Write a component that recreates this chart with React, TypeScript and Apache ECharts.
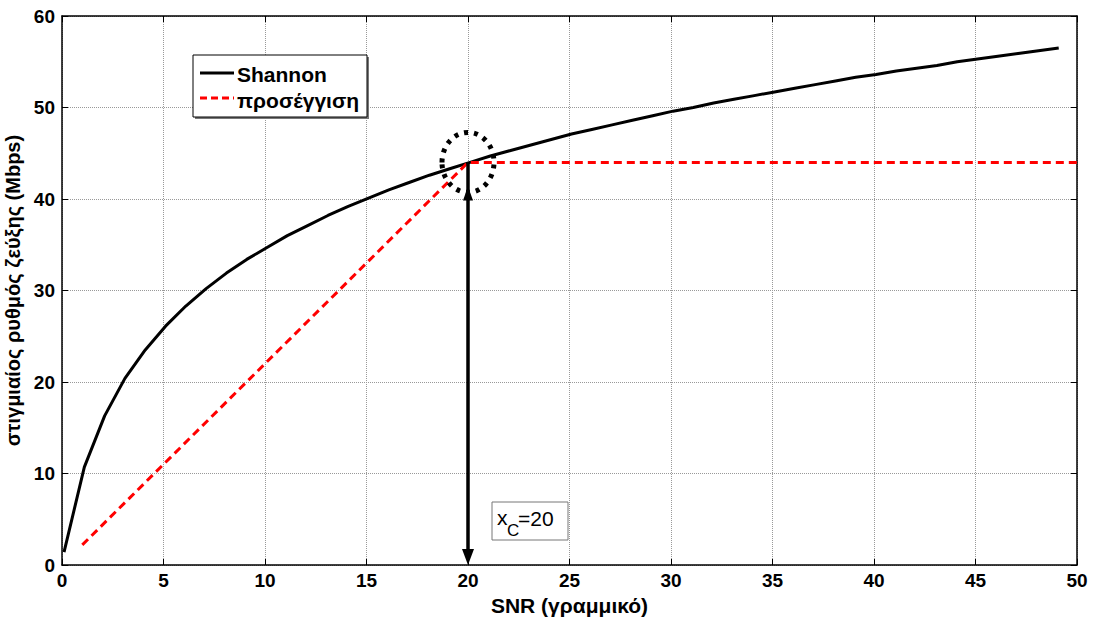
import React, { useEffect, useRef } from "react";
import * as echarts from "echarts";

// SNR (linear) sample points of the Shannon curve
const snr = [
  0.1, 1.1, 2.1, 3.1, 4.1, 5.1, 6.1, 7.1, 8.1, 9.1,
  10.1, 11.1, 12.1, 13.1, 14.1, 15.1, 16.1, 17.1, 18.1, 19.1,
  20.1, 21.1, 22.1, 23.1, 24.1, 25.1, 26.1, 27.1, 28.1, 29.1,
  30.1, 31.1, 32.1, 33.1, 34.1, 35.1, 36.1, 37.1, 38.1, 39.1,
  40.1, 41.1, 42.1, 43.1, 44.1, 45.1, 46.1, 47.1, 48.1, 49.1,
];
// instantaneous link rate (Mbps)
const shannon = [
  1.4, 10.7, 16.3, 20.4, 23.5, 26.1, 28.3, 30.2, 31.9, 33.4,
  34.7, 36.0, 37.1, 38.2, 39.2, 40.1, 41.0, 41.8, 42.6, 43.3,
  44.0, 44.7, 45.3, 45.9, 46.5, 47.1, 47.6, 48.1, 48.6, 49.1,
  49.6, 50.0, 50.5, 50.9, 51.3, 51.7, 52.1, 52.5, 52.9, 53.3,
  53.6, 54.0, 54.3, 54.6, 55.0, 55.3, 55.6, 55.9, 56.2, 56.5,
];
// piecewise-linear approximation
const approxX = [1, 20, 50];
const approxY = [2.2, 44, 44];

const cornerX = 20;
const cornerY = 44;

const xMin = 0, xMax = 50, xStep = 5;
const yMin = 0, yMax = 60, yStep = 10;

const FONT = "'Liberation Sans', Arial, sans-serif";

export default function App() {
  const ref = useRef<HTMLDivElement>(null);

  useEffect(() => {
    if (!ref.current) return;
    const chart = echarts.init(ref.current, null, { renderer: "svg" });

    const gridLine = { show: true, lineStyle: { color: "#999", type: "dotted", width: 1 } };
    const axisLine = { show: true, onZero: false, lineStyle: { color: "#000", width: 1.5 } };
    const tickIn = { show: true, inside: true, length: 6, lineStyle: { color: "#000", width: 1 } };
    const label = { color: "#000", fontFamily: FONT, fontWeight: "bold", fontSize: 19 };

    chart.setOption({
      animation: false,
      backgroundColor: "#fff",
      grid: { left: 62, right: 17, top: 16, bottom: 52, containLabel: false, outerBoundsMode: "none" },
      xAxis: [
        {
          type: "value", min: xMin, max: xMax, interval: xStep,
          axisLine, axisTick: tickIn, splitLine: gridLine,
          axisLabel: { ...label, margin: 6 },
          name: "SNR (γραμμικό)", nameLocation: "middle", nameGap: 23,
          nameTextStyle: { color: "#000", fontFamily: FONT, fontWeight: "bold", fontSize: 21 },
        },
        {
          type: "value", position: "top", min: xMin, max: xMax, interval: xStep,
          axisLine, axisTick: tickIn, splitLine: { show: false }, axisLabel: { show: false },
        },
      ],
      yAxis: [
        {
          type: "value", min: yMin, max: yMax, interval: yStep,
          axisLine, axisTick: tickIn, splitLine: gridLine,
          axisLabel: { ...label, margin: 7 },
          name: "στιγμιαίος ρυθμός ζεύξης (Mbps)", nameLocation: "middle", nameGap: 29,
          nameTextStyle: { color: "#000", fontFamily: FONT, fontWeight: "bold", fontSize: 20 },
        },
        {
          type: "value", position: "right", min: yMin, max: yMax, interval: yStep,
          axisLine, axisTick: tickIn, splitLine: { show: false }, axisLabel: { show: false },
        },
      ],
      series: [
        {
          name: "Shannon", type: "line", xAxisIndex: 0, yAxisIndex: 0,
          data: snr.map((x, i) => [x, shannon[i]]),
          showSymbol: false, symbol: "none",
          lineStyle: { color: "#000", width: 3 },
        },
        {
          name: "προσέγγιση", type: "line", xAxisIndex: 0, yAxisIndex: 0,
          data: approxX.map((x, i) => [x, approxY[i]]),
          showSymbol: false, symbol: "none",
          lineStyle: { color: "#ff0000", width: 3, type: [8, 5] },
        },
      ],
    });

    const p = chart.convertToPixel({ gridIndex: 0 }, [cornerX, cornerY]) as number[];
    const p0 = chart.convertToPixel({ gridIndex: 0 }, [cornerX, 0]) as number[];
    const ax = p[0];

    chart.setOption({
      graphic: [
        // legend
        { type: "rect", shape: { x: 195, y: 57, width: 174, height: 62 }, style: { fill: "#777" }, z: 99 },
        { type: "rect", shape: { x: 193, y: 55, width: 174, height: 62 }, style: { fill: "#fff", stroke: "#000", lineWidth: 1 }, z: 100 },
        { type: "line", shape: { x1: 200, y1: 73, x2: 234, y2: 73 }, style: { stroke: "#000", lineWidth: 3 }, z: 101 },
        { type: "line", shape: { x1: 200, y1: 98, x2: 234, y2: 98 }, style: { stroke: "#ff0000", lineWidth: 3, lineDash: [7, 4] }, z: 101 },
        { type: "text", x: 237, y: 74, style: { text: "Shannon", fill: "#000", font: `bold 21px ${FONT}`, verticalAlign: "middle" }, z: 101 },
        { type: "text", x: 237, y: 100, style: { text: "προσέγγιση", fill: "#000", font: `bold 21px ${FONT}`, verticalAlign: "middle" }, z: 101 },
        // dotted circle around the corner point
        { type: "ellipse", shape: { cx: ax, cy: p[1], rx: 26, ry: 30 }, style: { fill: "none", stroke: "#000", lineWidth: 5, lineDash: [4, 6] }, z: 50 },
        // double arrow
        { type: "line", shape: { x1: ax, y1: p[1], x2: ax, y2: p0[1] - 10 }, style: { stroke: "#000", lineWidth: 3.5 }, z: 50 },
        { type: "polygon", shape: { points: [[ax, p[1] + 24], [ax - 5, p[1] + 38], [ax + 5, p[1] + 38]] }, style: { fill: "#000" }, z: 51 },
        { type: "polygon", shape: { points: [[ax, p0[1]], [ax - 6, p0[1] - 16], [ax + 6, p0[1] - 16]] }, style: { fill: "#000" }, z: 51 },
        // x_C annotation box
        { type: "rect", shape: { x: 492, y: 502, width: 76, height: 38 }, style: { fill: "#fff", stroke: "#777", lineWidth: 1 }, z: 60 },
        { type: "text", x: 497, y: 528, style: { text: "x", fill: "#000", font: `21px ${FONT}`, verticalAlign: "bottom" }, z: 61 },
        { type: "text", x: 507, y: 539, style: { text: "C", fill: "#000", font: `17px ${FONT}`, verticalAlign: "bottom" }, z: 61 },
        { type: "text", x: 518, y: 529, style: { text: "=20", fill: "#000", font: `21px ${FONT}`, verticalAlign: "bottom" }, z: 61 },
      ],
    });

    return () => chart.dispose();
  }, []);

  return (
    <div
      ref={ref}
      style={{ position: "fixed", left: 0, top: 0, width: 1094, height: 617, background: "#fff" }}
    />
  );
}
